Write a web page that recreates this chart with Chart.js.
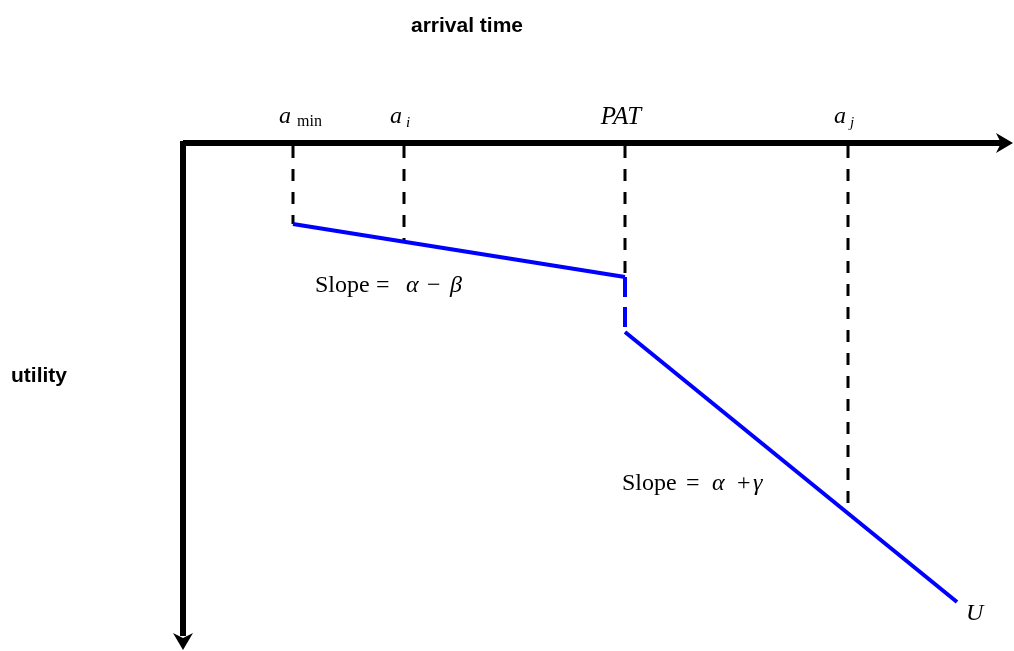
<!DOCTYPE html>
<html><head><meta charset="utf-8">
<script src="https://cdn.jsdelivr.net/npm/chart.js@4.4.1/dist/chart.umd.min.js"></script>
<style>html,body{margin:0;padding:0;background:#fff;overflow:hidden}#wrap{width:1014px;height:651px;position:relative}</style>
</head><body><div id="wrap"><canvas id="c"></canvas></div>
<script>
// ---- data ----
const xAxisTitle = 'arrival time';
const yAxisTitle = 'utility';
const markerNames = ['a', 'a', 'PAT', 'a'];
const markerSubs = ['min', 'i', '', 'j'];
const markerX = [110, 221, 442, 665];
const guideStartU = [3, 3, 3, 3];
const guideEndU = [81, 98, 134, 362];
const earlyX = [110, 442];
const earlyU = [81, 134];
const jumpX = [442, 442];
const jumpU = [134, 189];
const lateX = [442, 774];
const lateU = [189, 459];
const slopeTexts = [['Slope', '=', 'α', '−', 'β'], ['Slope', '=', 'α', '+', 'γ']];
const endLabel = 'U';
const xMax = 830;
const uMax = 507;

// ---- chart ----
const pts = (xs, ys) => xs.map((x, i) => ({x: x, y: ys[i]}));
const BLUE = '#0000ff';
const datasets = [
  {data: pts(earlyX, earlyU), borderColor: BLUE, borderWidth: 4},
  {data: pts(jumpX, jumpU), borderColor: BLUE, borderWidth: 4, borderDash: [20, 10]},
  {data: pts(lateX, lateU), borderColor: BLUE, borderWidth: 4}
].concat(markerX.map((x, i) => ({
  data: [{x: x, y: guideStartU[i]}, {x: x, y: guideEndU[i]}],
  borderColor: '#000', borderWidth: 3, borderDash: [12, 11]
})));
datasets.forEach(d => { d.showLine = true; d.pointRadius = 0; d.pointHoverRadius = 0; d.fill = false; d.tension = 0; });

const SERIF = '"Liberation Serif", "Times New Roman", serif';
const SANS = '"Liberation Sans", Arial, sans-serif';

const decor = {
  id: 'decor',
  afterDatasetsDraw(chart) {
    const ctx = chart.ctx, ca = chart.chartArea;
    const xs = chart.scales.x, ys = chart.scales.y;
    ctx.save();
    ctx.fillStyle = '#000';
    // axes shafts
    ctx.fillRect(ca.left, ca.top - 3, (ca.right - 12) - ca.left, 6);
    ctx.fillRect(ca.left - 3, ca.top - 2, 6, (ca.bottom - 14) - (ca.top - 2));
    // arrowheads
    ctx.beginPath();
    ctx.moveTo(ca.right, ca.top);
    ctx.lineTo(ca.right - 17, ca.top - 10);
    ctx.lineTo(ca.right - 12, ca.top);
    ctx.lineTo(ca.right - 17, ca.top + 10);
    ctx.closePath(); ctx.fill();
    ctx.beginPath();
    ctx.moveTo(ca.left, ca.bottom);
    ctx.lineTo(ca.left - 10, ca.bottom - 17);
    ctx.lineTo(ca.left, ca.bottom - 12);
    ctx.lineTo(ca.left + 10, ca.bottom - 17);
    ctx.closePath(); ctx.fill();

    // axis titles
    ctx.fillStyle = '#000';
    ctx.font = 'bold 21px ' + SANS;
    ctx.textBaseline = 'alphabetic';
    ctx.textAlign = 'center';
    ctx.fillText(xAxisTitle, 467, 32);
    ctx.textAlign = 'left';
    ctx.fillText(yAxisTitle, 11, 382);

    // marker labels
    const base = ca.top - 20;
    markerX.forEach((v, i) => {
      const cx = xs.getPixelForValue(v);
      ctx.font = 'italic 24px ' + SERIF;
      if (markerSubs[i]) {
        const left = cx - 14;
        ctx.textAlign = 'left';
        ctx.fillText(markerNames[i], left, base);
        const w = ctx.measureText(markerNames[i]).width;
        if (markerSubs[i] === 'min') {
          ctx.font = '16px ' + SERIF;
          ctx.fillText(markerSubs[i], left + w + 6, base + 3);
        } else {
          ctx.font = 'italic 15px ' + SERIF;
          ctx.fillText(markerSubs[i], left + w + 4, base + 4);
        }
      } else {
        ctx.font = 'italic 25px ' + SERIF;
        ctx.textAlign = 'center';
        ctx.fillText(markerNames[i], cx - 4, base + 1);
      }
    });

    // slope labels
    const anchors = [[132, 149], [439, 347]];
    const offsets = [[0, 61, 91, 112, 135], [0, 64, 90, 115, 131]];
    slopeTexts.forEach((parts, k) => {
      const x0 = xs.getPixelForValue(anchors[k][0]);
      const y0 = ys.getPixelForValue(anchors[k][1]);
      ctx.textAlign = 'left';
      parts.forEach((p, j) => {
        ctx.font = (j === 2 || j === 4 ? 'italic ' : '') + '24px ' + SERIF;
        ctx.fillText(p, x0 + offsets[k][j], y0);
      });
    });

    // end label
    ctx.font = 'italic 24px ' + SERIF;
    ctx.textAlign = 'left';
    ctx.fillText(endLabel, xs.getPixelForValue(lateX[1]) + 9, ys.getPixelForValue(lateU[1]) + 18);
    ctx.restore();
  }
};

new Chart(document.getElementById('c'), {
  type: 'scatter',
  data: {datasets: datasets},
  options: {
    responsive: true,
    maintainAspectRatio: false,
    animation: false,
    layout: {padding: {left: 183, top: 143, right: 1, bottom: 1}},
    plugins: {legend: {display: false}, tooltip: {enabled: false}, title: {display: false}},
    scales: {
      x: {type: 'linear', display: false, min: 0, max: xMax},
      y: {type: 'linear', display: false, min: 0, max: uMax, reverse: true}
    },
    events: []
  },
  plugins: [decor]
});
</script>
</body></html>
